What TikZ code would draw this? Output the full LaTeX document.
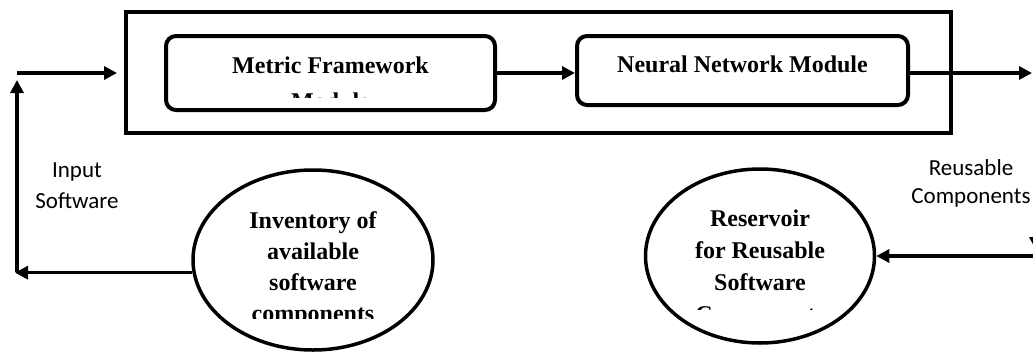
\documentclass[tikz,border=0pt]{standalone}
\usepackage{fontspec}
\setmainfont{Liberation Serif}
\newfontfamily\labelfont{Carlito}
\usetikzlibrary{arrows.meta,shapes.geometric}

\begin{document}
\begin{tikzpicture}[x=1pt,y=-1pt,
  frame/.style={draw,line width=4pt,inner sep=0pt},
  module/.style={draw,line width=4pt,rounded corners=10pt,inner sep=0pt},
  store/.style={draw,ellipse,line width=3.5pt,inner sep=0pt},
  boldtext/.style={font=\fontsize{24}{31}\selectfont\bfseries,align=center,inner sep=0pt},
  flowlabel/.style={font=\labelfont\fontsize{23}{31}\selectfont,align=center,inner sep=0pt},
  flow/.style={line width=3.5pt,-{Triangle[length=13pt,width=13pt]}}]

\useasboundingbox (0,0) rectangle (1033,351);

% outer processing block with its two modules
\node[frame,minimum width=825pt,minimum height=121pt] (outer) at (538.5,72.5) {};
\node[module,minimum width=329pt,minimum height=74pt] (met) at (330.5,73) {};
\node[module,minimum width=331pt,minimum height=69pt] (neu) at (742.5,70.5) {};

% module titles (base anchor sits on the last line)
\begin{scope}
  \clip (166,36) rectangle (495,97);
  \node[boldtext,font=\fontsize{24}{36}\selectfont\bfseries,anchor=base] (metT) at (330.5,109) {Metric Framework\\Module};
\end{scope}
\node[boldtext,anchor=base] (neuT) at (742.5,72) {Neural Network Module};

% component stores
\node[store,minimum width=240pt,minimum height=180pt] (inv) at (313,260) {};
\node[store,minimum width=229pt,minimum height=174pt] (res) at (760,256) {};

\begin{scope}
  \clip (190,170) rectangle (440,318);
  \node[boldtext,anchor=base] (invT) at (313,321) {Inventory of\\available\\software\\components};
\end{scope}
\begin{scope}
  \clip (640,170) rectangle (880,309);
  \node[boldtext,font=\fontsize{24}{31.7}\selectfont\bfseries,anchor=base] (resT) at (760,322) {Reservoir\\for Reusable\\Software\\Components};
\end{scope}

% flow labels
\node[flowlabel,anchor=base] (inL) at (77,208) {Input\\Software};
\node[flowlabel,font=\labelfont\fontsize{23}{28}\selectfont,anchor=base] (outL) at (971,203) {Reusable\\Components};

% connectors
\coordinate (inCorner) at (17,73);
\coordinate (inUp) at (17,80);
\coordinate (inBottom) at (17,272);
\coordinate (inTip) at (15,270);
\coordinate (outTip) at (1032,73);
\coordinate (outEnd) at (1036,73);
\coordinate (outDown) at (1036,250);
\coordinate (backStart) at (1036,256);

\draw[flow] (met.east) -- (met.east -| neu.west);
\draw[flow] (neu.east |- met.east) -- (outTip);
\draw[flow] (outEnd) -- (outDown);
\draw[flow] (backStart) -- (res.east);
\draw[flow] (inv.186) -- (inv.186 -| inTip);
\draw[flow] (inBottom) -- (inUp);
\draw[flow,shorten >=7pt] (inCorner) -- (outer.west |- inCorner);
\end{tikzpicture}
\end{document}
